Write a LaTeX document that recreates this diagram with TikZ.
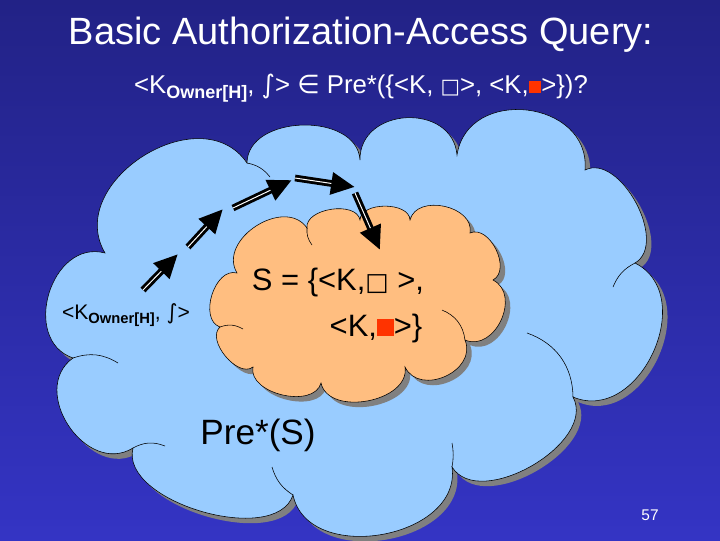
\documentclass[tikz,border=0pt]{standalone}
\usepackage{fontspec}
\setmainfont{Liberation Sans}
\newfontfamily\glyphfont{DejaVu Sans}
\usepackage{graphicx}
\usetikzlibrary{arrows.meta, positioning}
\definecolor{colSkyTop}{RGB}{34,34,134}
\definecolor{colSkyBottom}{RGB}{52,52,196}
\definecolor{colPre}{RGB}{153,204,255}
\definecolor{colSet}{RGB}{255,190,128}
\definecolor{colShadow}{RGB}{128,128,128}
\definecolor{colMark}{RGB}{255,51,0}
\newcommand{\owner}{\raisebox{-0.35ex}{\scalebox{0.7}{\bfseries Owner[H]}}}
\newcommand{\boxw}{\scalebox{0.8}{\glyphfont □}}
\newcommand{\boxr}[1]{\textcolor{colMark}{\rule{#1}{#1}}}
\newcommand{\gam}{{\glyphfont ∫}}
\newcommand{\member}{{\glyphfont ∈}}
\newcommand{\precloud}{(105,253) to[looseness=1.25] (247,163) to[looseness=1.1] (360,160)
    to[looseness=1.4] (457,155) to[looseness=1.4] (585,170) to[looseness=0.95] (635,263)
    to[looseness=1.25] (573,397) to[looseness=0.95] (452,467) to[looseness=1.15] (293,495)
    to[looseness=0.85] (133,448) to[looseness=1.3] (73,358) to[looseness=1.3] (105,253) -- cycle}
\newcommand{\setcloud}{(237,273) to[looseness=1.2] (307,228) to[looseness=0.95] (360,220)
    to[looseness=0.95] (410,220) to[looseness=1.15] (470,233) to[looseness=1.05] (493,280)
    to[looseness=1.25] (465,340) to[looseness=1.3] (405,367) to[looseness=1.05] (321,383)
    to[looseness=1.0] (253,367) to[looseness=0.95] (220,327) to[looseness=1.05] (237,273) -- cycle}
\tikzset{
    headline/.style={text=white, inner sep=0pt, font=\fontsize{27}{32}\selectfont},
    queryline/.style={text=white, inner sep=0pt, font=\fontsize{18.3}{22}\selectfont},
    cloudtext/.style={text=black, inner sep=0pt, font=\fontsize{22}{26}\selectfont},
    puffs/.style={every to/.style={bend left=88}},
    cloudshadow/.style={fill=colShadow, shift={(5,5)}},
    crease/.style={draw=black, thin},
    hop/.style={line width=4.8pt, -{Triangle[length=17pt, width=15pt]},
        postaction={draw=white, line width=0.7pt, arrows=-, shorten >=17pt}}
}

\begin{document}
\begin{tikzpicture}[x=0.025cm, y=-0.025cm]

    \shade[top color=colSkyTop, bottom color=colSkyBottom] (0,0) rectangle (720,540);
    \useasboundingbox (0,0) rectangle (720,540);

    \node[headline] (title) at (361,35) {Basic Authorization-Access Query:};
    \node[queryline] (query) at (361,88) {<K\owner, \gam> \member{} Pre*(\{<K, \boxw>, <K,\boxr{9pt}>\})?};

    % the two clouds, each with its shadow
    \fill[puffs, cloudshadow] \precloud;
    \filldraw[puffs, fill=colPre, draw=black, thin] \precloud;
    \draw[crease] (527,333) to[bend left=35] (573,397);
    \draw[crease] (613,287) to[bend left=20] (635,263);
    \draw[crease] (73,358) to[bend left=25] (118,363);
    \draw[crease] (133,448) to[bend left=25] (165,446);
    \draw[crease] (272,467) to[bend right=20] (293,495);
    \draw[crease] (452,443) to[bend left=10] (452,467);
    \draw[crease] (247,163) to[bend left=20] (270,177);

    \fill[puffs, cloudshadow] \setcloud;
    \filldraw[puffs, fill=colSet, draw=black, thin] \setcloud;
    \draw[crease] (442,310) to[bend left=30] (465,340);
    \draw[crease] (220,327) to[bend left=25] (243,329);
    \draw[crease] (307,228) to[bend right=20] (312,245);

    \node[cloudtext, font=\fontsize{15}{18}\selectfont] (start) at (126,315) {<K\owner, \gam>};
    \node[cloudtext] (setA) at (338,282) {S = \{<K,\boxw\ >,};
    \node[cloudtext] (setB) at (376,328) {<K,\boxr{12pt}>\}};
    \node[cloudtext, font=\fontsize{25}{30}\selectfont] (pre) at (258,435) {Pre*(S)};

    \coordinate (h1a) at (143,290);
    \coordinate (h1b) at (178,254);
    \coordinate (h2a) at (188,247);
    \coordinate (h2b) at (223,209);
    \coordinate (h3a) at (233,208);
    \coordinate (h3b) at (292,180);
    \coordinate (h4a) at (295,178);
    \coordinate (h4b) at (355,187);
    \coordinate (h5a) at (355,193);
    \coordinate (h5b) at (380,250);

    \draw[hop] (h1a) -- (h1b);
    \draw[hop] (h2a) -- (h2b);
    \draw[hop] (h3a) -- (h3b);
    \draw[hop] (h4a) -- (h4b);
    \draw[hop] (h5a) -- (h5b);

    \node[text=white, font=\fontsize{11}{13}\selectfont] (page) at (650,515) {57};

\end{tikzpicture}
\end{document}
